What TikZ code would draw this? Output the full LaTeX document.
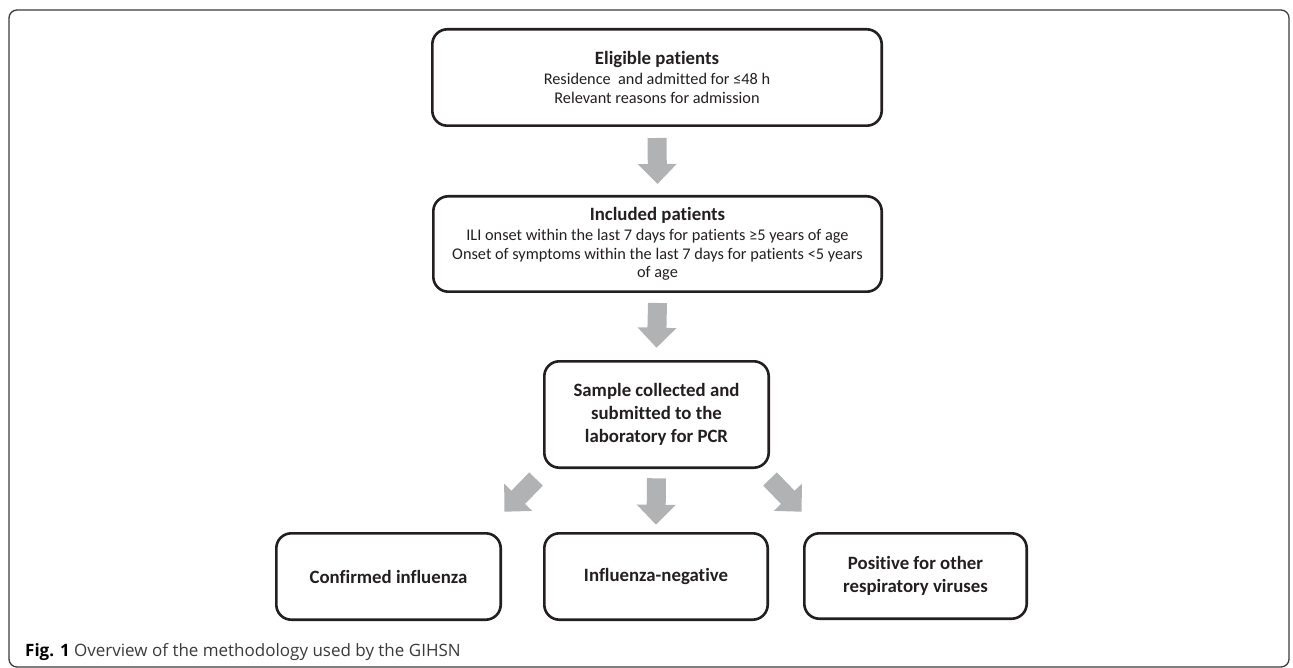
\documentclass[tikz,border=0pt]{standalone}
\usepackage{fontspec}
\setmainfont{Carlito}[Ligatures={NoCommon}]
\newfontfamily\capfont{Open Sans}
\usetikzlibrary{calc}
\definecolor{arrowgray}{HTML}{B1B2B4}
\definecolor{boxline}{HTML}{231F20}
\definecolor{framecol}{HTML}{3A3A3A}
\definecolor{captext}{HTML}{3A3A3A}
\newcommand\blockarrow[2]{%
  \coordinate (tmph) at ($(#2)!20pt!(#1)$);
  \fill[arrowgray] ($(#1)!9.5pt!90:(#2)$) -- ($(tmph)!9.5pt!90:(#2)$) -- ($(tmph)!19.5pt!90:(#2)$) -- (#2)
    -- ($(tmph)!19.5pt!-90:(#2)$) -- ($(tmph)!9.5pt!-90:(#2)$) -- ($(#1)!9.5pt!-90:(#2)$) -- cycle;
}
\begin{document}
\begin{tikzpicture}[x=1pt,y=-1pt,
  box/.style={draw=boxline, line width=2.6pt, rounded corners=15pt, align=center, inner sep=2pt,
    text=boxline, font=\fontsize{16.3}{18.8}\selectfont},
  boldbox/.style={box, font=\bfseries\fontsize{18.8}{23}\selectfont},
  frame/.style={draw=framecol, line width=1.3pt, rounded corners=8pt}]
\useasboundingbox (0,0) rectangle (1293,668);
\draw[frame] (9,10) rectangle (1289,667);

\node[box, minimum width=449.4pt, minimum height=96.4pt] (elig) at (657,77.5)
  {{\bfseries\fontsize{18.8}{20}\selectfont Eligible patients}\\[1pt]
   Residence\ \ and admitted for ≤48 h\\ Relevant reasons for admission};
\node[box, minimum width=448.4pt, minimum height=95.4pt] (incl) at (657.5,244)
  {{\bfseries\fontsize{18.8}{20}\selectfont Included patients}\\[1pt]
   ILI onset within the last 7 days for patients ≥5 years of age\\
   Onset of symptoms within the last 7 days for patients <5 years\\ of age};
\node[boldbox, minimum width=224.4pt, minimum height=106.4pt] (samp) at (656.5,414.5)
  {Sample collected and\\ submitted to the\\ laboratory for PCR};
\node[boldbox, minimum width=224.4pt, minimum height=86.4pt] (conf) at (388.5,576.5)
  {Confirmed influenza};
\node[boldbox, minimum width=223.4pt, minimum height=86.4pt] (neg) at (656,576.5)
  {Influenza-negative};
\node[boldbox, minimum width=222.4pt, minimum height=85.4pt] (oth) at (915.5,576)
  {Positive for other\\ respiratory viruses};

\node[anchor=base west, inner sep=0pt, text=captext, font=\capfont\fontsize{17}{20}\selectfont] (cap) at (25,656)
  {{\bfseries\color{black}Fig. 1} Overview of the methodology used by the GIHSN};

\coordinate (a1s) at ($(elig.south)+(0,11)$);
\coordinate (a1e) at ($(incl.north)+(0,-11)$);
\coordinate (a2s) at ($(incl.south)+(0,10)$);
\coordinate (a2e) at ($(samp.north)+(0,-12.3)$);
\coordinate (a3s) at ($(samp.south)+(0,9.3)$);
\coordinate (a3e) at ($(neg.north)+(0,-7.3)$);
\coordinate (a4s) at ($(samp.south west)+(-7,10)$);
\coordinate (a4e) at ($(conf.north east)+(2.3,-20.3)$);
\coordinate (a5s) at ($(samp.south east)+(0,10)$);
\coordinate (a5e) at ($(oth.north west)+(-1.3,-20.3)$);
\blockarrow{a1s}{a1e}
\blockarrow{a2s}{a2e}
\blockarrow{a3s}{a3e}
\blockarrow{a4s}{a4e}
\blockarrow{a5s}{a5e}
\end{tikzpicture}
\end{document}
